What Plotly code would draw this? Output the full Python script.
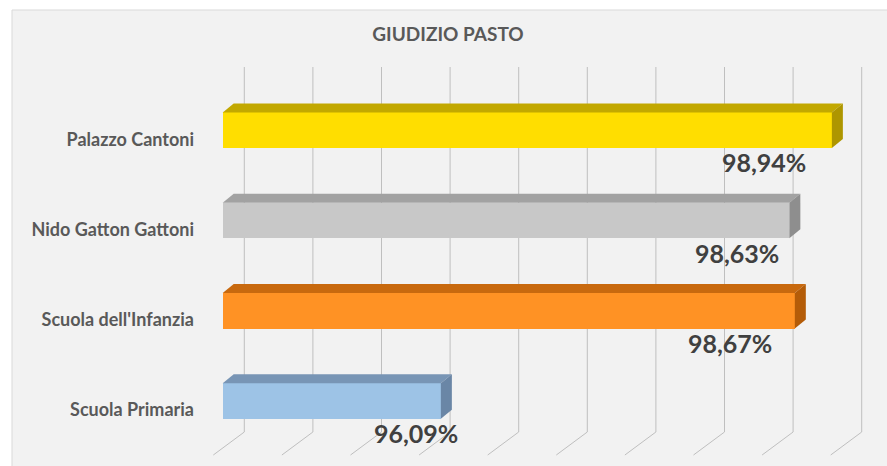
import plotly.graph_objects as go

# ---- data ----
categories = ["Scuola Primaria", "Scuola dell'Infanzia", "Nido Gatton Gattoni", "Palazzo Cantoni"]
values = [96.09, 98.67, 98.63, 98.94]
front_colors = ["#9DC3E6", "#FF9224", "#C8C8C8", "#FFDE00"]
top_colors = ["#7895B5", "#C8690E", "#A2A2A2", "#C2A800"]
side_colors = ["#6A86A6", "#B45C08", "#8E8E8E", "#AE9600"]
grid_ticks = [94.5, 95.0, 95.5, 96.0, 96.5, 97.0, 97.5, 98.0, 98.5, 99.0]
title_text = "GIUDIZIO PASTO"

# ---- styling / geometry ----
AXIS_MIN = 94.5
W, H = 887, 466
L, R, T, B = 200, 7, 58, 11
PX_PER_UNIT = 137.2
XR = [AXIS_MIN - 22.7 / PX_PER_UNIT, AXIS_MIN - 22.7 / PX_PER_UNIT + (W - L - R) / PX_PER_UNIT]
YR = [-0.4987, 3.901]
CAT_PX = (H - T - B) / (YR[1] - YR[0])
BAR_W = 0.395
BAR_SHIFT = 0.1
DX = 11 / PX_PER_UNIT
DY = 9 / CAT_PX
label_xshift = [19, -21, -8, -24]
FONT = "Lato"

pos = list(range(len(categories)))

fig = go.Figure()

# front faces
fig.add_trace(go.Bar(
    y=pos, x=[v - AXIS_MIN for v in values], base=AXIS_MIN, orientation="h",
    width=BAR_W, offset=BAR_SHIFT - BAR_W / 2,
    marker=dict(color=front_colors, line=dict(width=0)),
    showlegend=False, hoverinfo="skip",
))

# top and side faces (3D look)
for p, v, tc, sc in zip(pos, values, top_colors, side_colors):
    y_top = p + BAR_SHIFT + BAR_W / 2
    y_bot = p + BAR_SHIFT - BAR_W / 2
    fig.add_trace(go.Scatter(
        x=[AXIS_MIN, AXIS_MIN + DX, v + DX, v, AXIS_MIN],
        y=[y_top, y_top + DY, y_top + DY, y_top, y_top],
        fill="toself", fillcolor=tc, mode="lines", line=dict(width=0, color=tc),
        showlegend=False, hoverinfo="skip",
    ))
    fig.add_trace(go.Scatter(
        x=[v, v, v + DX, v + DX, v],
        y=[y_bot, y_top, y_top + DY, y_bot + DY, y_bot],
        fill="toself", fillcolor=sc, mode="lines", line=dict(width=0, color=sc),
        showlegend=False, hoverinfo="skip",
    ))

shapes = []
# chart area background
pw = W - L - R
ph = H - T - B
shapes.append(dict(
    type="rect", xref="paper", yref="paper", layer="below",
    x0=(12 - L) / pw, x1=(W + 5 - L) / pw,
    y0=((H - B) - (H + 5)) / ph, y1=((H - B) - 10) / ph,
    fillcolor="#F2F2F2", line=dict(color="#D9D9D9", width=1),
))
# back-wall gridlines with floor slant
for t in grid_ticks:
    shapes.append(dict(
        type="path", xref="x", yref="paper", layer="below",
        xsizemode="pixel", xanchor=t, ysizemode="pixel", yanchor=0,
        path="M21.6,388 L21.6,23 L-9.4,0",
        line=dict(color="#BFBFBF", width=1),
    ))

annotations = []
for p, v, xs in zip(pos, values, label_xshift):
    annotations.append(dict(
        x=v, y=p, xref="x", yref="y", xanchor="right", yanchor="middle",
        xshift=xs, yshift=-23, showarrow=False,
        text=f"{v:.2f}".replace(".", ",") + "%",
        font=dict(family=FONT, size=25, color="#404040", weight="bold"),
    ))

fig.update_layout(
    width=W, height=H,
    margin=dict(l=L, r=R, t=T, b=B),
    paper_bgcolor="white", plot_bgcolor="rgba(0,0,0,0)",
    title=dict(text=title_text, x=448 / W, xanchor="center", y=1 - 34 / H, yanchor="middle",
               font=dict(family=FONT, size=19, color="#595959", weight="bold")),
    xaxis=dict(range=XR, showgrid=False, zeroline=False, showticklabels=False, showline=False, fixedrange=True),
    yaxis=dict(range=YR, tickvals=pos, ticktext=categories, showgrid=False, zeroline=False,
               showline=False, ticks="", ticklabelstandoff=5,
               tickfont=dict(family=FONT, size=18, color="#595959", weight="bold")),
    shapes=shapes, annotations=annotations, bargap=0,
)

fig.write_html("out.html")
